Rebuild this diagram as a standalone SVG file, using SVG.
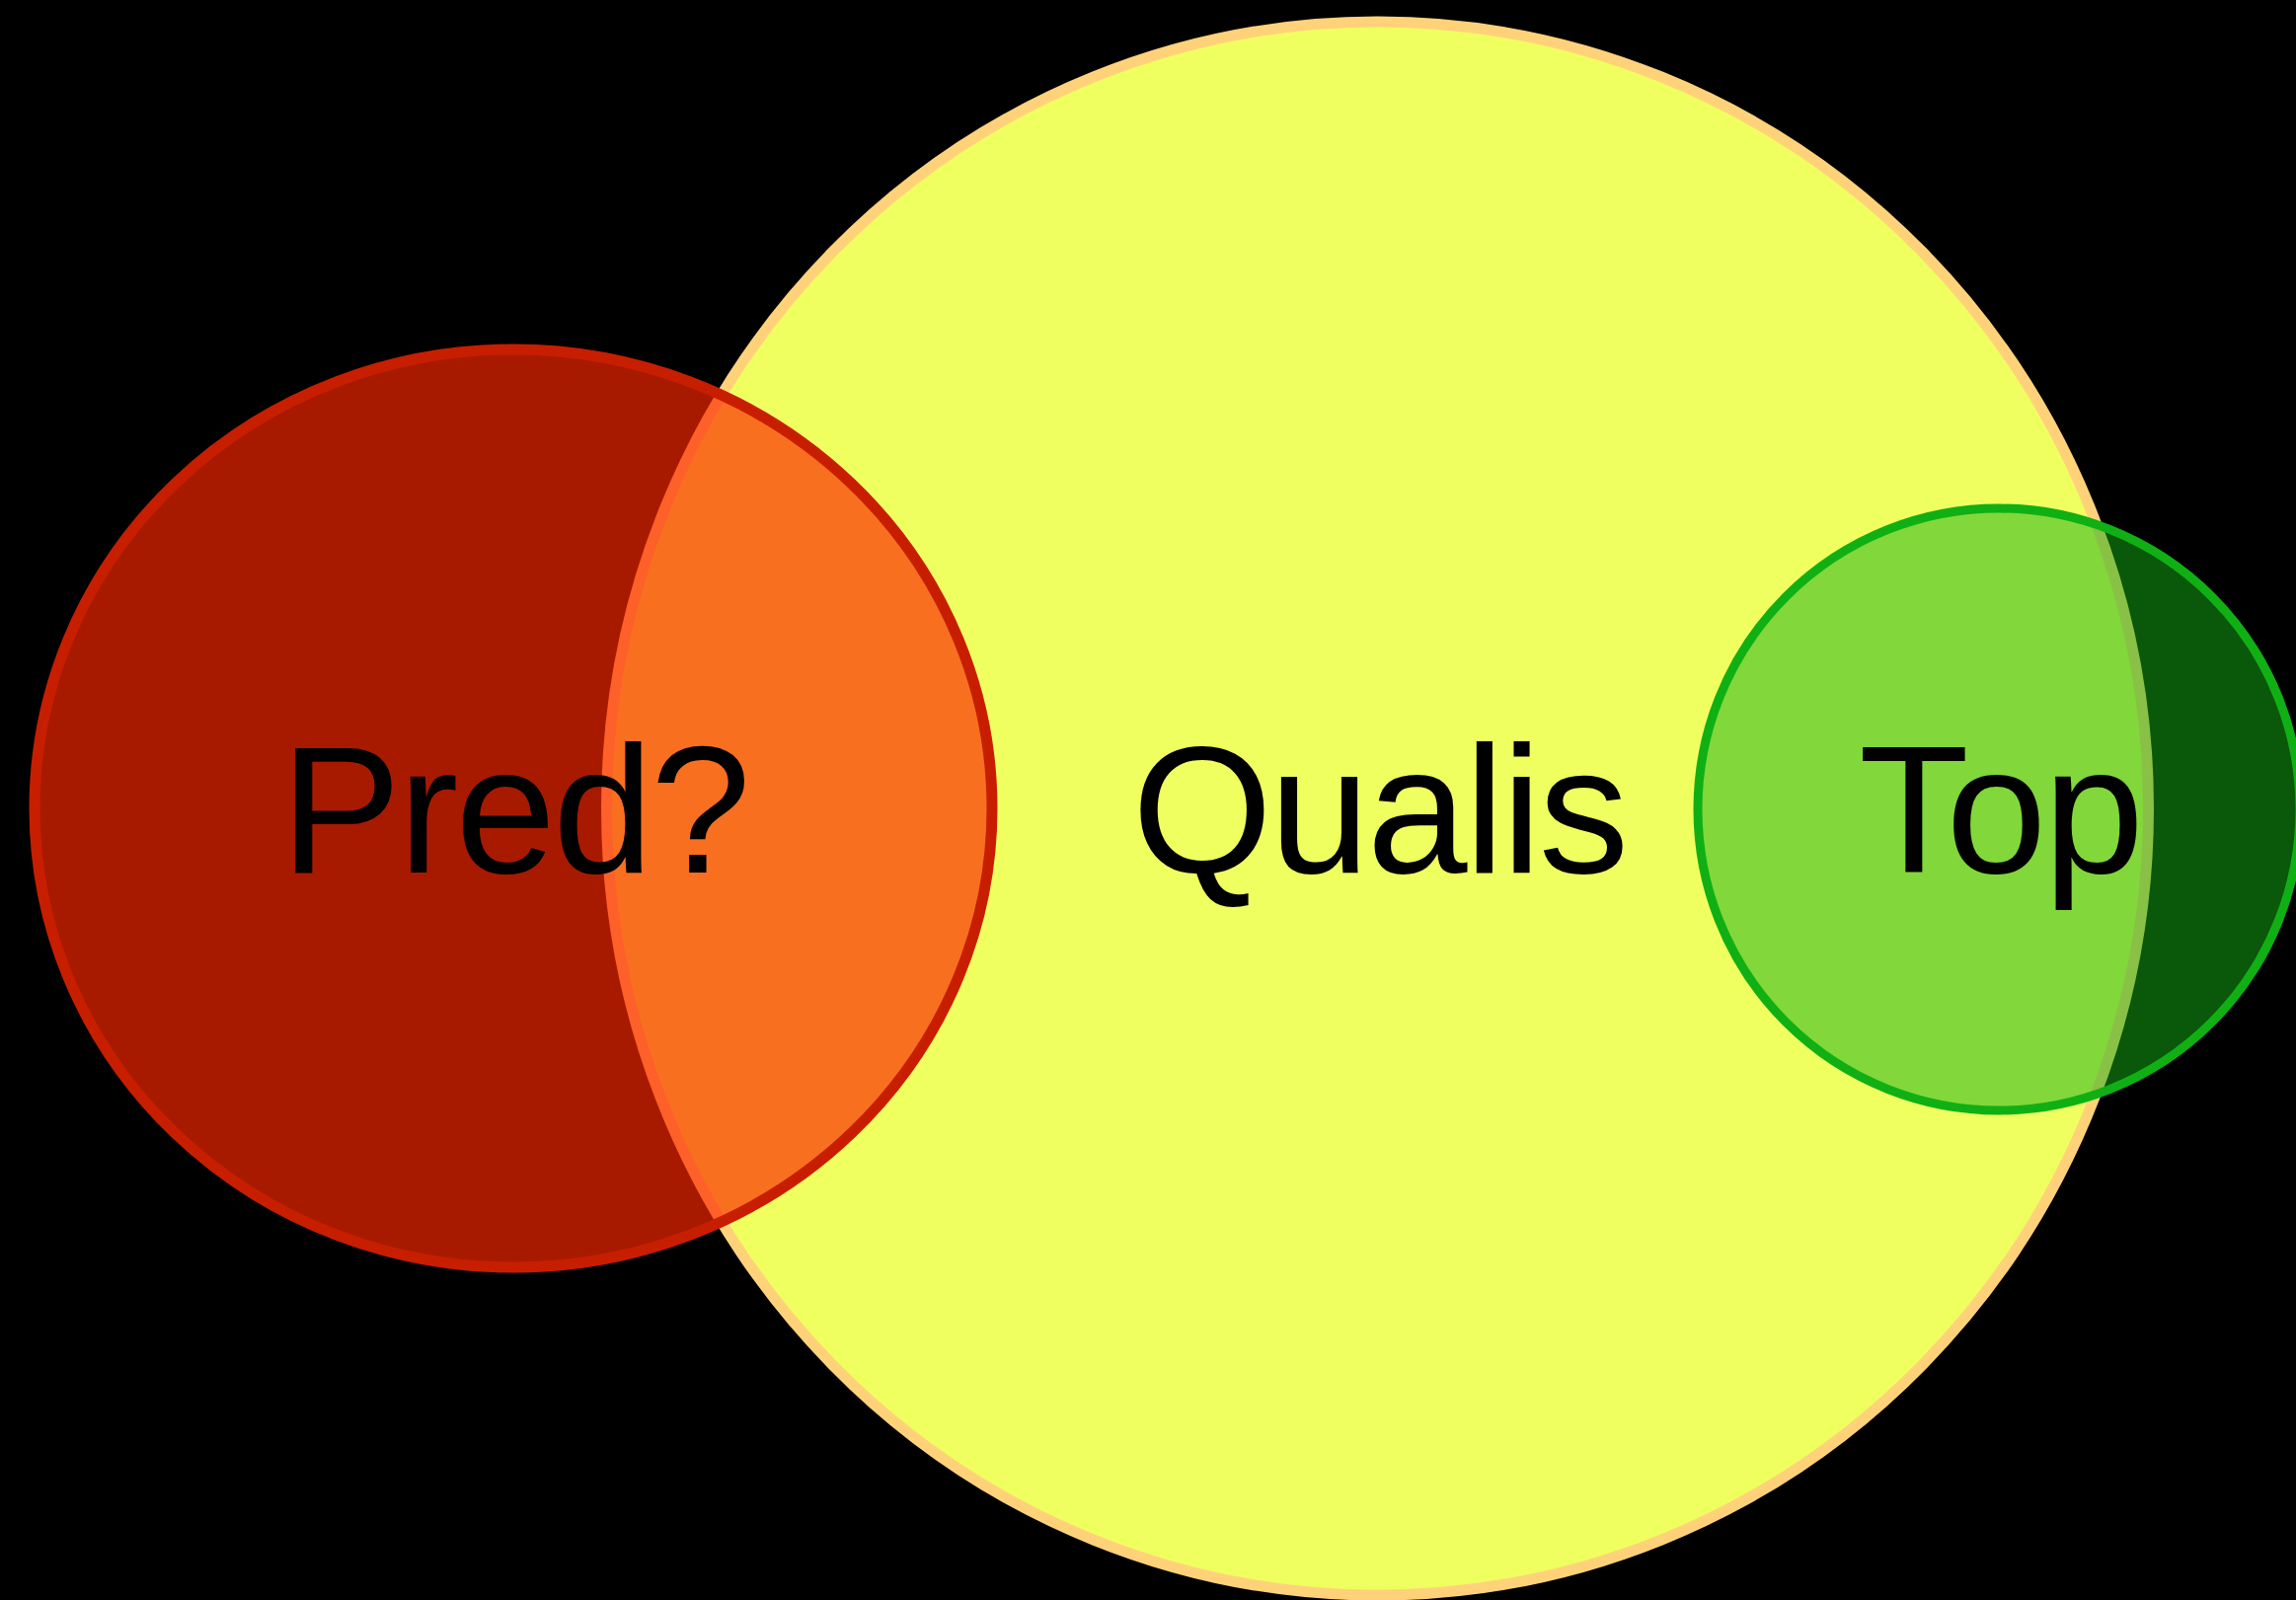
<svg xmlns="http://www.w3.org/2000/svg" width="2326" height="1621" viewBox="0 0 2326 1621">
<style>
.lbl{font-family:"Liberation Sans",Arial,sans-serif;font-size:183px;letter-spacing:-3px;fill:#000;text-anchor:middle}
</style>
<rect width="2326" height="1621" fill="#000"/>
<g id="qualis">
<ellipse cx="1395.5" cy="819" rx="781" ry="797" fill="#f0ff60" stroke="#ffd27a" stroke-width="11"/>
</g>
<g id="pred">
<ellipse cx="520" cy="819" rx="485" ry="465" fill="rgb(252,39,0)" fill-opacity="0.667" stroke="#c81e00" stroke-width="11"/>
</g>
<g id="top">
<circle cx="2025" cy="820" r="305" fill="rgb(20,176,20)" fill-opacity="0.5" stroke="#10b014" stroke-width="9"/>
</g>
<g id="connectors"></g>
<g id="labels">
<text class="lbl" x="521" y="884">Pred?</text>
<text class="lbl" x="1397" y="884">Qualis</text>
<text class="lbl" x="2026" y="884">Top</text>
</g>
</svg>
